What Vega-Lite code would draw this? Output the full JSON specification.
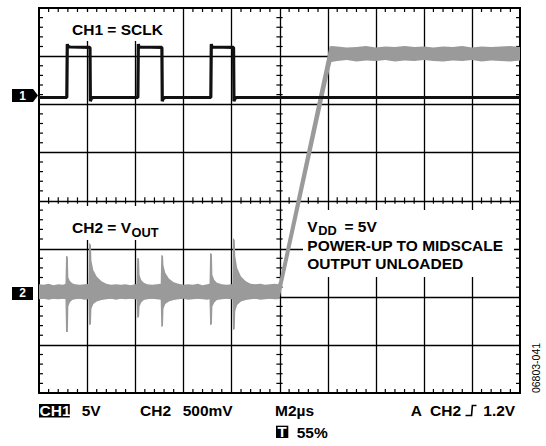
{
  "$schema": "https://vega.github.io/schema/vega-lite/v6.json",
  "width": 481,
  "height": 385,
  "autosize": "none",
  "padding": {"left": 39, "top": 8, "right": 26, "bottom": 53},
  "background": "white",
  "config": {
    "view": {"stroke": "#000", "strokeWidth": 2},
    "text": {"font": "Liberation Sans"}
  },
  "datasets": {
    "boxes": [
      {"x": 0.561, "x2": 2.682, "y": 7.917, "y2": 7.314},
      {"x": 0.561, "x2": 2.682, "y": 3.886, "y2": 3.179},
      {"x": 5.489, "x2": 9.875, "y": 3.803, "y2": 2.41}
    ],
    "xt": [{"v":0.2},{"v":0.4},{"v":0.6},{"v":0.8},{"v":1.2},{"v":1.4},{"v":1.6},{"v":1.8},{"v":2.2},{"v":2.4},{"v":2.6},{"v":2.8},{"v":3.2},{"v":3.4},{"v":3.6},{"v":3.8},{"v":4.2},{"v":4.4},{"v":4.6},{"v":4.8},{"v":5.2},{"v":5.4},{"v":5.6},{"v":5.8},{"v":6.2},{"v":6.4},{"v":6.6},{"v":6.8},{"v":7.2},{"v":7.4},{"v":7.6},{"v":7.8},{"v":8.2},{"v":8.4},{"v":8.6},{"v":8.8},{"v":9.2},{"v":9.4},{"v":9.6},{"v":9.8}],
    "yt": [{"v":0.2},{"v":0.4},{"v":0.6},{"v":0.8},{"v":1.2},{"v":1.4},{"v":1.6},{"v":1.8},{"v":2.2},{"v":2.4},{"v":2.6},{"v":2.8},{"v":3.2},{"v":3.4},{"v":3.6},{"v":3.8},{"v":4.2},{"v":4.4},{"v":4.6},{"v":4.8},{"v":5.2},{"v":5.4},{"v":5.6},{"v":5.8},{"v":6.2},{"v":6.4},{"v":6.6},{"v":6.8},{"v":7.2},{"v":7.4},{"v":7.6},{"v":7.8}],
    "ch2": [
      {"x":0.0,"lo":1.95,"hi":2.26},{"x":0.1,"lo":1.96,"hi":2.25},{"x":0.2,"lo":1.94,"hi":2.27},{"x":0.3,"lo":1.96,"hi":2.24},{"x":0.4,"lo":1.95,"hi":2.26},{"x":0.5,"lo":1.96,"hi":2.25},{"x":0.55,"lo":1.95,"hi":2.27},
      {"x":0.562,"lo":1.27,"hi":2.85},{"x":0.6,"lo":1.27,"hi":2.83},{"x":0.61,"lo":1.8,"hi":2.4},{"x":0.64,"lo":1.88,"hi":2.33},{"x":0.69,"lo":1.93,"hi":2.28},{"x":0.75,"lo":1.95,"hi":2.26},{"x":0.85,"lo":1.96,"hi":2.25},{"x":0.95,"lo":1.94,"hi":2.26},{"x":1.03,"lo":1.95,"hi":2.27},
      {"x":1.042,"lo":1.41,"hi":3.12},{"x":1.08,"lo":1.43,"hi":3.08},{"x":1.09,"lo":1.75,"hi":2.75},{"x":1.13,"lo":1.85,"hi":2.55},{"x":1.2,"lo":1.9,"hi":2.42},{"x":1.3,"lo":1.93,"hi":2.32},{"x":1.4,"lo":1.95,"hi":2.27},{"x":1.5,"lo":1.96,"hi":2.25},{"x":1.6,"lo":1.94,"hi":2.26},{"x":1.7,"lo":1.96,"hi":2.25},{"x":1.8,"lo":1.95,"hi":2.26},{"x":1.9,"lo":1.96,"hi":2.24},{"x":2.0,"lo":1.95,"hi":2.26},{"x":2.03,"lo":1.94,"hi":2.27},
      {"x":2.042,"lo":1.56,"hi":2.81},{"x":2.08,"lo":1.58,"hi":2.79},{"x":2.09,"lo":1.8,"hi":2.45},{"x":2.125,"lo":1.88,"hi":2.35},{"x":2.18,"lo":1.93,"hi":2.29},{"x":2.25,"lo":1.95,"hi":2.26},{"x":2.35,"lo":1.96,"hi":2.25},{"x":2.45,"lo":1.95,"hi":2.26},{"x":2.53,"lo":1.94,"hi":2.27},
      {"x":2.542,"lo":1.37,"hi":2.87},{"x":2.578,"lo":1.39,"hi":2.85},{"x":2.588,"lo":1.75,"hi":2.65},{"x":2.625,"lo":1.85,"hi":2.5},{"x":2.7,"lo":1.9,"hi":2.38},{"x":2.8,"lo":1.93,"hi":2.3},{"x":2.9,"lo":1.95,"hi":2.27},{"x":3.0,"lo":1.96,"hi":2.25},{"x":3.1,"lo":1.94,"hi":2.26},{"x":3.2,"lo":1.95,"hi":2.25},{"x":3.3,"lo":1.96,"hi":2.27},{"x":3.4,"lo":1.95,"hi":2.24},{"x":3.5,"lo":1.94,"hi":2.26},{"x":3.545,"lo":1.95,"hi":2.27},
      {"x":3.557,"lo":1.41,"hi":2.91},{"x":3.595,"lo":1.43,"hi":2.89},{"x":3.605,"lo":1.8,"hi":2.45},{"x":3.645,"lo":1.88,"hi":2.35},{"x":3.7,"lo":1.93,"hi":2.29},{"x":3.8,"lo":1.95,"hi":2.26},{"x":3.9,"lo":1.96,"hi":2.25},{"x":4.0,"lo":1.95,"hi":2.26},{"x":4.022,"lo":1.94,"hi":2.27},
      {"x":4.034,"lo":1.31,"hi":3.22},{"x":4.07,"lo":1.33,"hi":3.18},{"x":4.08,"lo":1.7,"hi":2.85},{"x":4.12,"lo":1.83,"hi":2.6},{"x":4.2,"lo":1.9,"hi":2.42},{"x":4.3,"lo":1.93,"hi":2.32},{"x":4.4,"lo":1.95,"hi":2.27},{"x":4.5,"lo":1.96,"hi":2.26},{"x":4.6,"lo":1.94,"hi":2.27},{"x":4.7,"lo":1.95,"hi":2.25},{"x":4.8,"lo":1.96,"hi":2.26},{"x":4.9,"lo":1.95,"hi":2.27},{"x":4.97,"lo":1.95,"hi":2.26},
      {"x":5.0,"lo":1.96,"hi":2.34},{"x":6.04,"lo":6.72,"hi":7.2},{"x":6.08,"lo":6.88,"hi":7.21},
      {"x":6.2,"lo":6.9,"hi":7.2},{"x":6.4,"lo":6.92,"hi":7.18},{"x":6.6,"lo":6.89,"hi":7.19},{"x":6.8,"lo":6.91,"hi":7.21},{"x":7.0,"lo":6.9,"hi":7.18},{"x":7.2,"lo":6.92,"hi":7.2},{"x":7.4,"lo":6.89,"hi":7.19},{"x":7.6,"lo":6.91,"hi":7.21},{"x":7.8,"lo":6.9,"hi":7.19},{"x":8.0,"lo":6.92,"hi":7.2},{"x":8.2,"lo":6.9,"hi":7.18},{"x":8.4,"lo":6.89,"hi":7.2},{"x":8.6,"lo":6.91,"hi":7.19},{"x":8.8,"lo":6.9,"hi":7.21},{"x":9.0,"lo":6.92,"hi":7.18},{"x":9.2,"lo":6.89,"hi":7.2},{"x":9.4,"lo":6.91,"hi":7.19},{"x":9.6,"lo":6.9,"hi":7.2},{"x":9.8,"lo":6.89,"hi":7.21},{"x":10.0,"lo":6.91,"hi":7.19}
    ],
    "ch1": [
      {"x":0,"y":6.14},{"x":0.578,"y":6.14},{"x":0.588,"y":7.25},{"x":0.6,"y":7.2},{"x":0.65,"y":7.19},{"x":1.06,"y":7.18},{"x":1.068,"y":6.06},{"x":1.085,"y":6.12},{"x":1.12,"y":6.14},
      {"x":2.055,"y":6.14},{"x":2.065,"y":7.25},{"x":2.08,"y":7.19},{"x":2.555,"y":7.18},{"x":2.563,"y":6.06},{"x":2.58,"y":6.12},{"x":2.62,"y":6.14},
      {"x":3.572,"y":6.14},{"x":3.582,"y":7.25},{"x":3.595,"y":7.19},{"x":4.045,"y":7.18},{"x":4.053,"y":6.06},{"x":4.07,"y":6.12},{"x":4.11,"y":6.14},{"x":10,"y":6.14}
    ],
    "labels": [
      {"x":0.686,"y":7.439,"t":"CH1 = SCLK"},
      {"x":0.686,"y":3.318,"t":"CH2 = V"},
      {"x":5.578,"y":3.339,"t":"V"},
      {"x":6.35,"y":3.339,"t":"= 5V"},
      {"x":5.578,"y":2.955,"t":"POWER-UP TO MIDSCALE"},
      {"x":5.578,"y":2.585,"t":"OUTPUT UNLOADED"},
      {"x":0.888,"y":-0.484,"t":"5V"},
      {"x":2.1,"y":-0.484,"t":"CH2"},
      {"x":2.988,"y":-0.484,"t":"500mV"},
      {"x":4.906,"y":-0.484,"t":"M2µs"},
      {"x":5.358,"y":-0.925,"t":"55%"},
      {"x":7.728,"y":-0.484,"t":"A"},
      {"x":8.129,"y":-0.484,"t":"CH2"},
      {"x":9.237,"y":-0.484,"t":"1.2V"}
    ],
    "subs": [
      {"x":1.923,"y":3.25,"t":"OUT"},
      {"x":5.805,"y":3.28,"t":"DD"}
    ],
    "darkboxes": [
      {"x":0.0,"x2":0.64,"y":-0.229,"y2":-0.509},
      {"x":4.927,"x2":5.183,"y":-0.679,"y2":-0.935},
      {"x":-0.561,"x2":-0.125,"y":2.203,"y2":1.932}
    ]
  },
  "layer": [
    {
      "data": {"name": "boxes"},
      "mark": {"type": "rect", "fill": "white", "stroke": null},
      "encoding": {
        "x": {"field": "x", "type": "quantitative", "scale": {"domain": [0, 10], "nice": false, "zero": false},
              "axis": {"values": [1,2,3,4,5,6,7,8,9], "grid": true, "gridColor": "#000", "gridWidth": 1.3, "gridOpacity": 1, "labels": false, "ticks": false, "domain": false, "title": null}},
        "x2": {"field": "x2"},
        "y": {"field": "y", "type": "quantitative", "scale": {"domain": [0, 8], "nice": false, "zero": false},
              "axis": {"values": [1,2,3,4,5,6,7], "grid": true, "gridColor": "#000", "gridWidth": 1.3, "gridOpacity": 1, "labels": false, "ticks": false, "domain": false, "title": null}},
        "y2": {"field": "y2"}
      }
    },
    {"data": {"name": "xt"}, "mark": {"type": "rule", "color": "#000", "strokeWidth": 1.2},
     "encoding": {"x": {"field": "v", "type": "quantitative"}, "y": {"datum": 8}, "y2": {"datum": 7.917}}},
    {"data": {"name": "xt"}, "mark": {"type": "rule", "color": "#000", "strokeWidth": 1.2},
     "encoding": {"x": {"field": "v", "type": "quantitative"}, "y": {"datum": 0}, "y2": {"datum": 0.083}}},
    {"data": {"name": "xt"}, "mark": {"type": "rule", "color": "#000", "strokeWidth": 1.2},
     "encoding": {"x": {"field": "v", "type": "quantitative"}, "y": {"datum": 4.065}, "y2": {"datum": 3.935}}},
    {"data": {"name": "yt"}, "mark": {"type": "rule", "color": "#000", "strokeWidth": 1.2},
     "encoding": {"y": {"field": "v", "type": "quantitative"}, "x": {"datum": 0}, "x2": {"datum": 0.083}}},
    {"data": {"name": "yt"}, "mark": {"type": "rule", "color": "#000", "strokeWidth": 1.2},
     "encoding": {"y": {"field": "v", "type": "quantitative"}, "x": {"datum": 10}, "x2": {"datum": 9.917}}},
    {"data": {"name": "yt"}, "mark": {"type": "rule", "color": "#000", "strokeWidth": 1.2},
     "encoding": {"y": {"field": "v", "type": "quantitative"}, "x": {"datum": 5.065}, "x2": {"datum": 4.935}}},
    {"data": {"name": "ch2"}, "mark": {"type": "area", "color": "#9a9a9a", "interpolate": "linear", "opacity": 1},
     "encoding": {"x": {"field": "x", "type": "quantitative"}, "y": {"field": "hi", "type": "quantitative"}, "y2": {"field": "lo"}}},
    {"data": {"name": "ch1"}, "mark": {"type": "line", "color": "#111", "strokeWidth": 3.2, "strokeJoin": "bevel"},
     "encoding": {"x": {"field": "x", "type": "quantitative"}, "y": {"field": "y", "type": "quantitative"}}},
    {"data": {"name": "darkboxes"}, "mark": {"type": "rect", "fill": "#000", "stroke": null},
     "encoding": {"x": {"field": "x", "type": "quantitative"}, "x2": {"field": "x2"}, "y": {"field": "y", "type": "quantitative"}, "y2": {"field": "y2"}}},
    {"data": {"values": [{"x": -0.291, "y": 6.18}]},
     "mark": {"type": "point", "shape": "M-1,-0.5L0.62,-0.5L1,0L0.62,0.5L-1,0.5Z", "filled": true, "color": "#000", "size": 676, "opacity": 1},
     "encoding": {"x": {"field": "x", "type": "quantitative"}, "y": {"field": "y", "type": "quantitative"}}},
    {"data": {"values": [{"x": 8.981, "y": -0.364}]},
     "mark": {"type": "point", "shape": "M-1,0.9L0.1,0.9L0.25,-0.9L1,-0.9", "filled": false, "color": "#000", "strokeWidth": 1.6, "size": 121, "opacity": 1},
     "encoding": {"x": {"field": "x", "type": "quantitative"}, "y": {"field": "y", "type": "quantitative"}}},
    {"data": {"name": "labels"},
     "mark": {"type": "text", "align": "left", "baseline": "alphabetic", "fontSize": 15.5, "fontWeight": "bold", "color": "#000"},
     "encoding": {"x": {"field": "x", "type": "quantitative"}, "y": {"field": "y", "type": "quantitative"}, "text": {"field": "t"}}},
    {"data": {"name": "subs"},
     "mark": {"type": "text", "align": "left", "baseline": "alphabetic", "fontSize": 12.8, "fontWeight": "bold", "color": "#000"},
     "encoding": {"x": {"field": "x", "type": "quantitative"}, "y": {"field": "y", "type": "quantitative"}, "text": {"field": "t"}}},
    {"data": {"values": [{"x": 0.012, "y": -0.484, "t": "CH1"}]},
     "mark": {"type": "text", "align": "left", "baseline": "alphabetic", "fontSize": 15.5, "fontWeight": "bold", "color": "#fff"},
     "encoding": {"x": {"field": "x", "type": "quantitative"}, "y": {"field": "y", "type": "quantitative"}, "text": {"field": "t"}}},
    {"data": {"values": [{"x": 5.055, "y": -0.91, "t": "T"}]},
     "mark": {"type": "text", "align": "center", "baseline": "alphabetic", "fontSize": 15, "fontWeight": "bold", "color": "#fff"},
     "encoding": {"x": {"field": "x", "type": "quantitative"}, "y": {"field": "y", "type": "quantitative"}, "text": {"field": "t"}}},
    {"data": {"values": [{"x": -0.343, "y": 6.18, "t": "1"}, {"x": -0.343, "y": 2.068, "t": "2"}]},
     "mark": {"type": "text", "align": "center", "baseline": "middle", "fontSize": 12, "fontWeight": "bold", "color": "#fff"},
     "encoding": {"x": {"field": "x", "type": "quantitative"}, "y": {"field": "y", "type": "quantitative"}, "text": {"field": "t"}}},
    {"data": {"values": [{"x": 10.353, "y": 0.52, "t": "06803-041"}]},
     "mark": {"type": "text", "align": "center", "baseline": "middle", "angle": 270, "fontSize": 10.5, "fontWeight": "normal", "color": "#000"},
     "encoding": {"x": {"field": "x", "type": "quantitative"}, "y": {"field": "y", "type": "quantitative"}, "text": {"field": "t"}}}
  ]
}
